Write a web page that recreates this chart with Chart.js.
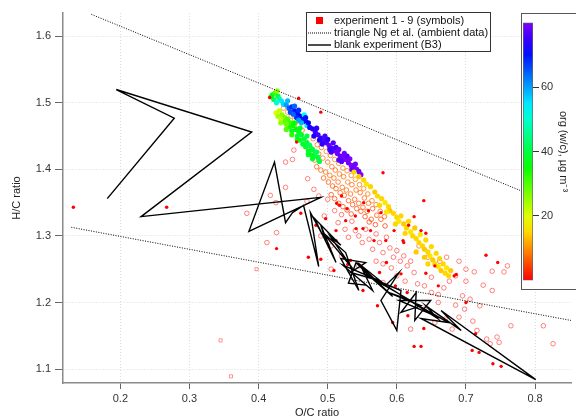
<!DOCTYPE html>
<html>
<head>
<meta charset="utf-8">
<script src="https://cdn.jsdelivr.net/npm/chart.js@4.4.0/dist/chart.umd.min.js"></script>
<style>
  html, body { margin: 0; padding: 0; background: #fff; }
  #wrap { position: relative; width: 576px; height: 420px; overflow: hidden; }
  #cbox { position: absolute; left: 521px; top: 13px; width: 56px; height: 277px;
          background: #fff; border: 1px solid #555; box-sizing: border-box; }
  #cbox canvas { display: block; }
</style>
</head>
<body>
<div id="wrap">
  <canvas id="myChartVK" width="576" height="420"></canvas>
  <div id="cbox"><canvas id="myChartBar" width="54" height="275"></canvas></div>
</div>
<script>
// axis ranges and ticks
const ocMin = 0.117, ocMax = 0.852;
const hcMin = 1.079, hcMax = 1.635;
const ocTicks = [0.2, 0.3, 0.4, 0.5, 0.6, 0.7, 0.8];
const hcTicks = [1.1, 1.2, 1.3, 1.4, 1.5, 1.6];
const cbMin = 0, cbMax = 80;
const cbTicks = [20, 40, 60];

const legendLabels = [
  "experiment 1 - 9 (symbols)",
  "triangle Ng et al. (ambient data)",
  "blank experiment (B3)",
];

// triangle Ng et al.
const triUpperOC = [0.158, 0.852];
const triUpperHC = [1.633, 1.337];
const triLowerOC = [0.129, 0.852];
const triLowerHC = [1.313, 1.173];

// blank experiment (B3)
const blankOC = [0.181, 0.278, 0.194, 0.390, 0.230, 0.490, 0.386, 0.423, 0.439,
  0.449, 0.465, 0.487, 0.475, 0.497, 0.490, 0.512, 0.481, 0.519, 0.504, 0.536, 0.493,
  0.526, 0.545, 0.519, 0.555, 0.533, 0.574, 0.522, 0.565, 0.551, 0.594, 0.543, 0.584,
  0.603, 0.577, 0.600, 0.606, 0.565, 0.620, 0.588, 0.635, 0.606, 0.628, 0.626, 0.649,
  0.603, 0.664, 0.613, 0.674, 0.635, 0.801, 0.664, 0.693, 0.642, 0.659, 0.591, 0.559,
  0.541, 0.530, 0.555];
const blankHC = [1.356, 1.477, 1.520, 1.456, 1.329, 1.358, 1.307, 1.411, 1.320,
  1.335, 1.346, 1.254, 1.335, 1.293, 1.316, 1.260, 1.326, 1.286, 1.299, 1.251, 1.305,
  1.275, 1.218, 1.266, 1.260, 1.245, 1.233, 1.256, 1.218, 1.248, 1.209, 1.260, 1.226,
  1.245, 1.203, 1.158, 1.218, 1.236, 1.203, 1.215, 1.195, 1.185, 1.215, 1.173, 1.203,
  1.203, 1.176, 1.206, 1.170, 1.176, 1.084, 1.188, 1.158, 1.195, 1.176, 1.221, 1.241,
  1.260, 1.229, 1.226];

// filled symbols coloured by org (w/c): [O/C, H/C, org]
const filledPts = [
  [0.420,1.512,38],[0.424,1.515,30],[0.428,1.510,40],[0.422,1.505,42],[0.430,1.506,45],
  [0.426,1.500,50],[0.433,1.503,55],[0.436,1.498,56],[0.418,1.509,36],[0.427,1.518,25],
  [0.440,1.497,60],[0.444,1.492,65],[0.448,1.494,68],[0.452,1.488,70],[0.446,1.486,66],
  [0.456,1.484,70],[0.460,1.480,72],[0.455,1.478,68],[0.464,1.476,70],[0.468,1.472,72],
  [0.462,1.470,58],[0.470,1.466,55],[0.466,1.482,52],[0.474,1.463,72],[0.450,1.483,64],
  [0.442,1.503,58],[0.452,1.495,64],[0.458,1.489,68],[0.468,1.478,70],[0.472,1.470,71],
  [0.458,1.474,60],
  [0.478,1.461,74],[0.482,1.456,75],[0.486,1.452,76],[0.480,1.450,73],[0.490,1.447,75],
  [0.494,1.444,77],[0.498,1.440,76],[0.492,1.438,74],[0.502,1.436,78],[0.506,1.432,77],
  [0.510,1.428,78],[0.505,1.426,76],[0.514,1.424,79],[0.518,1.420,78],[0.522,1.418,79],
  [0.526,1.415,80],[0.520,1.412,77],[0.530,1.410,79],[0.534,1.406,80],[0.538,1.404,79],
  [0.542,1.400,80],[0.528,1.420,76],[0.512,1.433,75],[0.500,1.445,73],[0.545,1.397,78],
  [0.484,1.462,74],[0.496,1.450,76],[0.508,1.440,77],[0.516,1.430,78],[0.524,1.424,79],
  [0.532,1.416,80],[0.540,1.408,79],[0.488,1.444,73],[0.503,1.430,75],[0.516,1.414,77],
  [0.535,1.400,78],[0.548,1.392,80],
  [0.425,1.485,20],[0.430,1.488,22],[0.428,1.480,24],[0.434,1.482,26],[0.438,1.478,28],
  [0.436,1.472,30],[0.442,1.475,30],[0.446,1.470,32],[0.444,1.464,34],[0.450,1.466,35],
  [0.454,1.460,36],[0.448,1.458,37],[0.458,1.456,38],[0.456,1.450,38],[0.462,1.452,39],
  [0.466,1.446,40],[0.460,1.444,38],[0.470,1.440,40],[0.468,1.434,39],[0.474,1.436,41],
  [0.478,1.430,40],[0.472,1.428,38],[0.482,1.426,40],[0.480,1.420,39],[0.486,1.418,40],
  [0.476,1.422,37],[0.440,1.468,28],[0.432,1.476,22],
  [0.432,1.470,25],[0.440,1.460,30],[0.448,1.452,33],[0.456,1.444,36],[0.464,1.438,38],
  [0.472,1.422,39],[0.478,1.416,38],[0.484,1.426,41],[0.452,1.470,36],[0.460,1.462,38],
  [0.470,1.450,40],[0.488,1.412,40],
  [0.538,1.396,15],[0.545,1.389,14],[0.552,1.384,15],[0.556,1.378,16],[0.562,1.374,15],
  [0.568,1.366,14],[0.572,1.360,15],[0.578,1.356,15],[0.583,1.350,16],[0.588,1.344,15],
  [0.590,1.338,14],[0.595,1.334,15],[0.600,1.328,15],[0.603,1.322,16],[0.606,1.330,15],
  [0.610,1.318,14],[0.614,1.312,15],[0.617,1.322,15],[0.620,1.306,16],[0.623,1.300,15],
  [0.626,1.312,14],[0.628,1.296,15],[0.632,1.290,15],[0.634,1.302,16],[0.637,1.285,15],
  [0.640,1.280,14],[0.642,1.294,15],[0.645,1.276,15],[0.648,1.270,16],[0.650,1.284,15],
  [0.652,1.264,14],[0.655,1.258,15],[0.657,1.274,15],[0.660,1.254,16],[0.662,1.266,15],
  [0.664,1.248,14],[0.667,1.258,15],[0.670,1.244,15],[0.672,1.252,16],[0.675,1.240,15],
  [0.678,1.248,14],[0.612,1.304,15],[0.598,1.318,15],[0.628,1.276,14],[0.645,1.258,15],
  [0.585,1.336,16],[0.575,1.346,15],[0.640,1.268,14],
];

// open circles coloured by org: [O/C, H/C, org]
const ringPts = [
  [0.436,1.492,9],[0.442,1.486,10],[0.447,1.480,8],[0.452,1.474,9],[0.458,1.466,8],[0.463,1.459,7],
  [0.469,1.441,8],[0.472,1.424,7],[0.479,1.446,8],[0.477,1.431,7],[0.481,1.414,7],
  [0.485,1.437,8],[0.487,1.423,7],[0.484,1.404,6],
  [0.491,1.433,7],[0.493,1.417,8],[0.490,1.399,6],[0.494,1.387,6],
  [0.498,1.427,9],[0.500,1.411,7],[0.497,1.396,7],[0.501,1.381,6],
  [0.504,1.421,8],[0.506,1.404,7],[0.503,1.391,8],[0.507,1.375,6],[0.505,1.362,5],
  [0.510,1.415,9],[0.511,1.399,7],[0.509,1.387,7],[0.512,1.371,6],[0.510,1.356,5],
  [0.516,1.409,8],[0.517,1.393,8],[0.515,1.381,7],[0.518,1.365,6],[0.516,1.349,5],
  [0.522,1.402,8],[0.523,1.389,7],[0.521,1.373,7],[0.524,1.361,6],[0.522,1.344,5],
  [0.528,1.398,9],[0.529,1.381,8],[0.527,1.369,7],[0.530,1.353,6],[0.528,1.339,4],
  [0.534,1.391,8],[0.535,1.377,7],[0.533,1.363,7],[0.536,1.347,5],[0.534,1.333,4],
  [0.540,1.385,9],[0.541,1.369,7],[0.539,1.355,6],[0.542,1.341,5],
  [0.546,1.377,8],[0.547,1.365,7],[0.545,1.349,6],[0.548,1.337,5],
  [0.552,1.371,9],[0.553,1.357,7],[0.551,1.343,6],[0.554,1.329,4],
  [0.558,1.363,8],[0.559,1.349,7],[0.557,1.337,5],[0.560,1.321,4],
  [0.564,1.353,8],[0.565,1.341,6],[0.563,1.325,5],
  [0.570,1.347,7],[0.571,1.331,6],[0.569,1.317,4],
  [0.576,1.337,7],[0.577,1.325,5],[0.582,1.329,6],[0.583,1.315,4],
  [0.439,1.411,1],[0.451,1.429,1],[0.449,1.415,1],[0.471,1.386,1],[0.417,1.361,1],
  [0.425,1.350,1],[0.439,1.373,1],[0.383,1.334,1],[0.426,1.305,1],[0.412,1.290,1],
  [0.480,1.370,1],[0.470,1.352,1],[0.487,1.360,1],[0.500,1.355,1],[0.510,1.338,1],
  [0.495,1.330,1],[0.520,1.332,1],[0.515,1.320,1],[0.525,1.310,1],[0.535,1.322,1],
  [0.540,1.308,1],[0.530,1.298,1],[0.545,1.300,1],[0.555,1.310,1],[0.550,1.290,1],
  [0.560,1.295,1],[0.565,1.280,1],[0.570,1.303,1],[0.575,1.290,1],[0.580,1.275,1],
  [0.585,1.298,1],[0.590,1.282,1],[0.595,1.268,1],[0.600,1.278,1],[0.605,1.262,1],
  [0.610,1.270,1],[0.615,1.255,1],[0.620,1.262,1],[0.625,1.245,1],[0.592,1.252,1],
  [0.580,1.258,1],[0.570,1.262,1],[0.600,1.240,1],[0.612,1.232,1],[0.630,1.228,1],
  [0.640,1.225,1],[0.650,1.215,1],[0.660,1.212,1],[0.668,1.222,1],[0.676,1.232,1],
  [0.685,1.240,1],[0.700,1.250,1],[0.712,1.246,1],[0.725,1.226,1],[0.738,1.218,1],
  [0.695,1.210,1],[0.706,1.205,1],[0.720,1.195,1],[0.698,1.190,1],[0.685,1.196,1],
  [0.660,1.200,1],[0.640,1.190,1],[0.620,1.160,1],[0.655,1.170,1],[0.670,1.175,1],
  [0.690,1.178,1],[0.710,1.172,1],[0.716,1.158,1],[0.730,1.145,1],[0.745,1.148,1],
  [0.765,1.165,1],[0.826,1.138,1],[0.812,1.165,1],[0.680,1.160,1],[0.650,1.238,1],
  [0.700,1.232,1],[0.755,1.246,1],[0.760,1.255,1],[0.738,1.247,1],[0.580,1.230,1],
  [0.560,1.240,1],[0.545,1.255,1],[0.520,1.270,1],[0.505,1.285,1],[0.490,1.300,1],
  [0.505,1.250,1],[0.632,1.285,1],[0.645,1.268,1],[0.662,1.262,1],[0.672,1.268,1],
  [0.690,1.262,1],[0.748,1.140,1],[0.735,1.138,1],
];

// open squares
const squarePts = [[0.345,1.143],[0.360,1.089],[0.397,1.250]];

// small red dots
const dotPts = [
  [0.132,1.343],[0.267,1.343],[0.416,1.508],[0.458,1.507],[0.490,1.486],[0.455,1.441],
  [0.580,1.395],[0.639,1.353],[0.513,1.349],[0.528,1.341],[0.552,1.350],[0.559,1.338],
  [0.551,1.311],[0.562,1.308],[0.512,1.308],[0.526,1.323],[0.577,1.335],[0.567,1.293],
  [0.584,1.293],[0.609,1.293],[0.596,1.308],[0.617,1.316],[0.635,1.308],[0.625,1.329],
  [0.610,1.290],[0.642,1.304],[0.642,1.244],[0.729,1.271],[0.746,1.260],[0.686,1.242],
  [0.714,1.153],[0.709,1.128],[0.739,1.108],[0.625,1.134],[0.683,1.240],[0.606,1.243],
  [0.572,1.195],[0.529,1.257],[0.509,1.248],[0.639,1.161],[0.616,1.180],[0.594,1.170],
  [0.497,1.326],[0.483,1.316],[0.517,1.346],[0.461,1.334],[0.426,1.281],[0.472,1.268],
  [0.490,1.265],[0.512,1.293],[0.541,1.311],[0.533,1.263],[0.551,1.218],[0.635,1.134],
  [0.719,1.125],[0.751,1.104],[0.660,1.225],[0.598,1.225],[0.520,1.360],[0.540,1.330],
  [0.655,1.255],[0.700,1.200],[0.585,1.260],[0.575,1.245],[0.615,1.215],
];

function orgColor(v, a) {
  const h = Math.max(cbMin, Math.min(cbMax, v)) / cbMax * 270;
  return "hsla(" + h + ",100%,50%," + a + ")";
}
function toXY(arr) {
  return arr.map(p => ({ x: p[0], y: p[1] }));
}
function pairXY(xs, ys) {
  return xs.map((x, i) => ({ x: x, y: ys[i] }));
}

const fontFam = '"Liberation Sans", Arial, sans-serif';

const boxLegend = {
  id: "boxLegend",
  afterDraw(chart) {
    const ctx = chart.ctx;
    ctx.save();
    ctx.fillStyle = "#fff";
    ctx.fillRect(306.5, 12.5, 184, 39);
    ctx.strokeStyle = "#333";
    ctx.lineWidth = 1;
    ctx.strokeRect(306.5, 12.5, 184, 39);
    ctx.font = "11px " + fontFam;
    ctx.textBaseline = "middle";
    legendLabels.forEach((t, i) => {
      const y = 20.5 + i * 12;
      if (i === 0) {
        ctx.fillStyle = "#ff0000";
        ctx.fillRect(316, y - 3.5, 7, 7);
      } else {
        ctx.beginPath();
        ctx.strokeStyle = "#000";
        ctx.lineWidth = i === 1 ? 1 : 1.4;
        ctx.setLineDash(i === 1 ? [1, 1] : []);
        ctx.moveTo(308, y + 0.5);
        ctx.lineTo(331, y + 0.5);
        ctx.stroke();
        ctx.setLineDash([]);
      }
      ctx.fillStyle = "#111";
      ctx.fillText(t, 334, y + 0.5);
    });
    ctx.restore();
  },
};

const canvas_vk = document.getElementById("myChartVK");
let myChart_vk = new Chart(canvas_vk, {
  type: "scatter",
  data: {
    datasets: [
      {
        label: legendLabels[2],
        data: pairXY(blankOC, blankHC),
        showLine: true,
        borderColor: "#000",
        borderWidth: 1.4,
        pointRadius: 0,
        order: 0,
      },
      {
        label: legendLabels[1],
        data: pairXY(triUpperOC, triUpperHC),
        showLine: true,
        borderColor: "#000",
        borderWidth: 1,
        borderDash: [1, 1.5],
        pointRadius: 0,
        order: 0,
      },
      {
        label: legendLabels[1],
        data: pairXY(triLowerOC, triLowerHC),
        showLine: true,
        borderColor: "#000",
        borderWidth: 1,
        borderDash: [1, 1.5],
        pointRadius: 0,
        order: 0,
      },
      {
        label: "dots",
        data: toXY(dotPts),
        pointRadius: 1.7,
        pointBackgroundColor: "#ff0000",
        pointBorderWidth: 0,
        order: 1,
      },
      {
        label: "filled",
        data: toXY(filledPts),
        pointRadius: 2.6,
        pointBackgroundColor: filledPts.map(p => orgColor(p[2], 1)),
        pointBorderWidth: 0,
        order: 2,
      },
      {
        label: "rings",
        data: toXY(ringPts),
        pointRadius: 2.3,
        pointBackgroundColor: "rgba(0,0,0,0)",
        pointBorderColor: ringPts.map(p => orgColor(p[2], p[2] > 2 ? 0.75 : 0.5)),
        pointBorderWidth: 1,
        order: 3,
      },
      {
        label: "squares",
        data: toXY(squarePts),
        pointStyle: "rect",
        pointRadius: 2.2,
        pointBackgroundColor: "rgba(0,0,0,0)",
        pointBorderColor: "rgba(255,60,60,0.55)",
        pointBorderWidth: 1,
        order: 3,
      },
    ],
  },
  options: {
    responsive: false,
    animation: false,
    events: [],
    layout: { padding: { top: 13, right: 4, left: 0, bottom: 0 } },
    plugins: { legend: { display: false }, tooltip: { enabled: false } },
    scales: {
      x: {
        type: "linear",
        min: ocMin,
        max: ocMax,
        afterBuildTicks: s => { s.ticks = ocTicks.map(v => ({ value: v })); },
        afterFit: s => { s.height = 37; },
        ticks: {
          callback: v => v.toFixed(1),
          color: "#333",
          font: { family: fontFam, size: 11 },
          padding: 3,
          maxRotation: 0,
          autoSkip: false,
        },
        grid: { color: "#dcdcdc", tickColor: "#666", tickLength: 6 },
        border: { color: "#8a8a8a", width: 1.5, dash: [1, 2] },
        title: {
          display: true,
          text: "O/C ratio",
          color: "#222",
          font: { family: fontFam, size: 11 },
          padding: { top: 0, bottom: 0 },
        },
      },
      y: {
        type: "linear",
        min: hcMin,
        max: hcMax,
        afterBuildTicks: s => { s.ticks = hcTicks.map(v => ({ value: v })); },
        afterFit: s => { s.width = 63; },
        ticks: {
          callback: v => v.toFixed(1),
          color: "#333",
          font: { family: fontFam, size: 11 },
          padding: 4,
        },
        grid: { color: "#dcdcdc", tickColor: "#666", tickLength: 8 },
        border: { color: "#8a8a8a", width: 1.5, dash: [1, 2] },
        title: {
          display: true,
          text: "H/C ratio",
          color: "#222",
          font: { family: fontFam, size: 11 },
          padding: { top: 10, bottom: 0 },
        },
      },
    },
  },
  plugins: [boxLegend],
});

// colour scale
const canvas_bar = document.getElementById("myChartBar");
let myChart_bar = new Chart(canvas_bar, {
  type: "bar",
  data: {
    labels: [""],
    datasets: [
      {
        data: [[cbMin, cbMax]],
        backgroundColor: c => {
          const area = c.chart.chartArea;
          if (!area) return "#fff";
          const g = c.chart.ctx.createLinearGradient(0, area.bottom, 0, area.top);
          for (let v = cbMin; v <= cbMax; v += 5) {
            g.addColorStop((v - cbMin) / (cbMax - cbMin), orgColor(v, 1));
          }
          return g;
        },
        borderColor: "#666",
        borderWidth: 1,
        borderSkipped: false,
        barPercentage: 1,
        categoryPercentage: 1,
      },
    ],
  },
  options: {
    responsive: false,
    animation: false,
    events: [],
    layout: { padding: { left: 1, top: 6, bottom: 6, right: 0 } },
    plugins: { legend: { display: false }, tooltip: { enabled: false } },
    scales: {
      x: { display: false },
      y: {
        position: "right",
        min: cbMin,
        max: cbMax,
        afterBuildTicks: s => { s.ticks = cbTicks.map(v => ({ value: v })); },
        afterFit: s => { s.width = 43; },
        ticks: { color: "#333", font: { family: fontFam, size: 11 }, padding: 2 },
        grid: { drawOnChartArea: false, color: "#333", tickLength: 6 },
        border: { display: false },
        title: {
          display: true,
          text: "org (w/c), µg m⁻³",
          color: "#222",
          font: { family: fontFam, size: 11 },
          padding: { top: 6, bottom: 0 },
        },
      },
    },
  },
});
</script>
</body>
</html>
